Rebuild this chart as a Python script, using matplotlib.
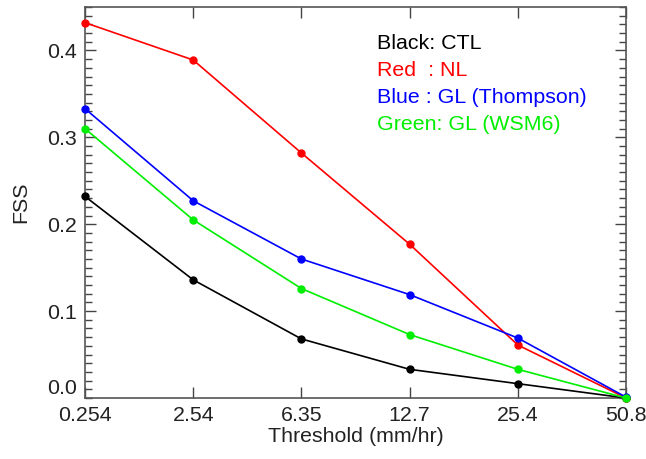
import matplotlib
matplotlib.use("Agg")
import matplotlib.pyplot as plt
from matplotlib.ticker import MultipleLocator

thresholds = ["0.254", "2.54", "6.35", "12.7", "25.4", "50.8"]
fss_ctl = [0.232, 0.136, 0.068, 0.033, 0.0165, 0.0]
fss_nl = [0.432, 0.389, 0.282, 0.177, 0.061, 0.0]
fss_thompson = [0.333, 0.227, 0.160, 0.119, 0.069, 0.001]
fss_wsm6 = [0.310, 0.205, 0.126, 0.073, 0.033, 0.0]

series = [
    (fss_ctl, "black", "Black: CTL"),
    (fss_nl, "red", "Red  : NL"),
    (fss_thompson, "blue", "Blue : GL (Thompson)"),
    (fss_wsm6, "#00ee00", "Green: GL (WSM6)"),
]

plt.rcParams["font.family"] = ["Liberation Sans", "DejaVu Sans"]
fs = 15.4

fig = plt.figure(figsize=(6.46, 4.59), dpi=100)
ax = fig.add_axes([85 / 646, 61 / 459, 541 / 646, 391 / 459])

x = list(range(len(thresholds)))
for vals, col, _ in series:
    ax.plot(x, vals, color=col, lw=1.2, marker="o", ms=5, clip_on=False, zorder=3)

ax.set_xlim(0, len(thresholds) - 1)
ax.set_ylim(0, 0.45)
ax.set_xticks(x)
ax.set_xticklabels(thresholds, fontsize=fs)
ax.set_yticks([0.1, 0.2, 0.3, 0.4])
ax.set_yticklabels(["0.1", "0.2", "0.3", "0.4"], fontsize=fs)
ax.yaxis.set_minor_locator(MultipleLocator(0.01))
# IDL-style: the 0.0 label sits a bit above the bottom edge
ax.annotate("0.0", xy=(0, 0), xycoords=("axes fraction", "data"),
            xytext=(-6, 7), textcoords="offset points",
            ha="right", va="center", fontsize=fs, color="#222222")

ax.tick_params(which="both", direction="in", top=True, right=True,
               colors="#444444", labelcolor="#222222")
ax.tick_params(which="major", length=8, width=1, pad=6)
ax.tick_params(which="minor", length=5, width=1)
ax.tick_params(axis="x", which="minor", top=False, bottom=False)
for sp in ax.spines.values():
    sp.set_color("#555555")
    sp.set_linewidth(1.2)

ax.set_xlabel("Threshold (mm/hr)", fontsize=fs, color="#222222", labelpad=1)
ax.set_ylabel("FSS", fontsize=fs, color="#222222", labelpad=12)

for i, (_, col, lab) in enumerate(series):
    ax.text(0.540, 0.907 - i * 0.069, lab, transform=ax.transAxes,
            color=col, fontsize=fs, va="center", ha="left")

fig.savefig("out.png", dpi=100)
